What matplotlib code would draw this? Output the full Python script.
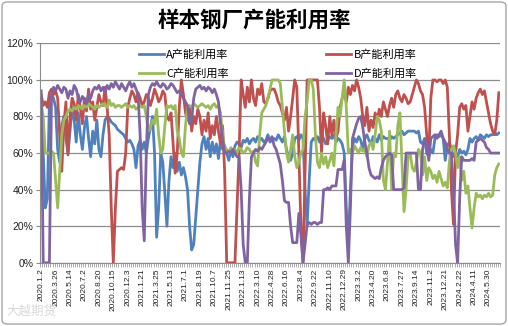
import numpy as np
import matplotlib.pyplot as plt
from matplotlib.patches import FancyBboxPatch

plt.rcParams['font.family'] = ['Noto Sans CJK SC', 'DejaVu Sans']

# weekly data, one label every 7 points
tick_labels = ["2020.1.2", "2020.3.26", "2020.5.14", "2020.7.2", "2020.8.20", "2020.10.15",
               "2020.12.3", "2021.1.21", "2021.3.25", "2021.5.13", "2021.7.1", "2021.8.19",
               "2021.10.7", "2021.11.25", "2022.1.13", "2022.3.10", "2022.4.28", "2022.6.16",
               "2022.8.4", "2022.9.22", "2022.11.10", "2022.12.29", "2023.3.2", "2023.4.20",
               "2023.6.8", "2023.7.27", "2023.9.14", "2023.11.2", "2023.12.21", "2024.2.22",
               "2024.4.11", "2024.5.30"]

series_a = [90, 60, 30, 35, 88, 92, 90, 85, 62, 55,
            75, 80, 68, 60, 72, 85, 78, 66, 82, 70,
            62, 74, 80, 68, 58, 72, 65, 78, 62, 58,
            70, 78, 80, 79, 77, 76, 75, 73, 72, 71,
            70, 68, 66, 67, 65, 62, 52, 64, 67, 62,
            66, 60, 68, 74, 80, 60, 14, 30, 60, 55,
            38, 20, 45, 58, 52, 60, 50, 55, 48, 52,
            47, 40, 20, 7, 10, 25, 40, 55, 65, 69,
            62, 68, 58, 66, 60, 65, 57, 67, 62, 64,
            60, 56, 62, 58, 64, 66, 65, 63, 67, 66,
            68, 65, 67, 68, 66, 69, 67, 68, 66, 67,
            70, 66, 67, 68, 67, 70, 68, 66, 69, 62,
            58, 56, 60, 68, 69, 67, 70, 68, 40, 20,
            45, 66, 68, 67, 69, 66, 70, 68, 65, 67,
            69, 68, 70, 66, 68, 67, 65, 60, 30, 10,
            40, 64, 68, 66, 69, 67, 62, 68, 70, 67,
            65, 69, 68, 66, 70, 67, 69, 68, 68, 67,
            69, 68, 69, 70, 71, 72, 70, 71, 72, 72,
            72, 72, 71, 72, 66, 65, 68, 60, 58, 62,
            60, 68, 70, 69, 70, 68, 56, 64, 66, 62,
            58, 60, 58, 62, 60, 61, 59, 62, 68, 66,
            68, 69, 67, 70, 69, 68, 70, 69, 70, 70,
            71, 70, 71]

series_b = [92, 86, 88, 85, 93, 95, 92, 94, 90, 70,
            50, 75, 88, 59, 80, 90, 87, 78, 92, 85,
            76, 90, 83, 95, 84, 88, 78, 85, 92, 88,
            86, 96, 85, 70, 30, 0, 30, 50, 51, 52,
            51, 60, 85, 90, 94, 92, 88, 93, 90, 86,
            88, 92, 90, 86, 90, 95, 92, 88, 90, 94,
            92, 80, 78, 82, 65, 49, 60, 85, 100, 92,
            82, 78, 85, 72, 80, 76, 84, 80, 70, 78,
            72, 82, 68, 75, 70, 80, 72, 65, 75, 50,
            0, 0, 0, 0, 0, 30, 60, 100, 92, 85,
            96, 88, 100, 90, 86, 95, 92, 98, 88, 87,
            90, 94, 95, 95, 92, 88, 86, 82, 78, 85,
            72, 80, 90, 100, 96, 60, 20, 0, 50, 100,
            100, 100, 100, 100, 100, 85, 60, 82, 75, 65,
            80, 70, 78, 68, 72, 85, 90, 94, 88, 96,
            92, 97, 94, 100, 96, 90, 80, 75, 85, 72,
            78, 74, 82, 78, 84, 80, 88, 84, 80, 86,
            90, 85, 92, 94, 90, 88, 92, 90, 87, 88,
            92, 96, 100, 98, 94, 92, 85, 70, 58, 90,
            100, 100, 99, 100, 100, 98, 100, 96, 70, 40,
            21, 60, 70, 85, 87, 84, 86, 72, 80, 88,
            84, 90, 93, 95, 92, 94, 88, 82, 76, 72,
            70, 78, 93]

series_c = [87, 80, 60, 60, 60, 61, 60, 45, 30, 50,
            70, 78, 80, 83, 84, 83, 85, 84, 86, 85,
            84, 86, 85, 87, 86, 85, 84, 86, 85, 86,
            87, 86, 85, 89, 86, 87, 85, 86, 86, 85,
            86, 87, 85, 86, 85, 86, 84, 85, 86, 85,
            86, 80, 72, 74, 78, 76, 84, 70, 60, 62,
            75, 86, 85, 86, 84, 86, 72, 68, 60, 58,
            75, 85, 86, 85, 87, 86, 85, 86, 87, 86,
            85, 86, 84, 86, 87, 85, 86, 82, 70, 63,
            62, 60, 63, 61, 62, 60, 63, 62, 60, 61,
            63, 62, 60, 61, 55, 53, 70, 82, 84, 86,
            90, 95, 100, 100, 100, 100, 98, 85, 72, 60,
            55, 62, 70, 58, 52, 55, 60, 62, 80, 88,
            100, 100, 95, 70, 55, 52, 60, 54, 58, 52,
            56, 60, 53, 70, 85, 80, 90, 100, 85, 60,
            62, 60, 64, 62, 60, 63, 61, 62, 58, 64,
            66, 62, 70, 80, 78, 72, 45, 40, 55, 72,
            40, 60, 58, 75, 82, 55, 28, 40, 58, 60,
            52, 50, 55, 62, 60, 48, 58, 45, 52, 50,
            46, 48, 44, 50, 46, 42, 44, 41, 55, 62,
            64, 60, 52, 58, 45, 50, 38, 42, 30, 19,
            30, 38, 36, 37, 35, 37, 36, 38, 36, 37,
            48, 52, 54]

series_d = [94, 0, 0, 0, 0, 90, 96, 94, 97, 95,
            93, 96, 95, 90, 94, 92, 97, 95, 90, 88,
            91, 89, 87, 92, 90, 94, 96, 95, 97, 94,
            96, 93, 97, 95, 98, 96, 99, 97, 95, 98,
            96, 94, 97, 99, 96, 98, 95, 92, 70, 30,
            12, 60, 92, 96, 98, 97, 99, 97, 96, 98,
            97, 95, 96, 98, 97, 95, 93, 94, 92, 90,
            88, 86, 76, 78, 90, 95, 96, 97, 95, 96,
            94, 96, 95, 93, 95, 92, 88, 76, 68, 60,
            60, 61, 60, 62, 60, 58, 58, 40, 10, 0,
            0, 35, 58, 60, 62, 61, 63, 62, 64, 66,
            68, 67, 69, 64, 62, 58, 54, 45, 34, 33,
            33, 20, 11, 11, 11, 27, 15, 0, 10, 21,
            22, 21, 22, 22, 21, 22, 22, 40, 40, 41,
            40, 42, 42, 42, 51, 51, 51, 56, 20, 0,
            30, 68, 72, 76, 79, 80, 74, 66, 60, 52,
            48, 47, 46, 47, 46, 52, 56, 58, 59, 60,
            59, 40, 40, 40, 40, 40, 41, 60, 60, 60,
            60, 60, 60, 40, 40, 62, 67, 66, 56, 68,
            69, 70, 68, 70, 72, 68, 66, 62, 60, 60,
            40, 10, 0, 35, 58, 56, 56, 56, 56, 57,
            56, 66, 67, 68, 67, 66, 63, 62, 60, 60,
            60, 60, 60]

names = ["A产能利用率", "B产能利用率", "C产能利用率", "D产能利用率"]
colors = ["#4F81BD", "#C0504D", "#9BBB59", "#8064A2"]

n = len(series_a)
x = np.arange(n)

fig = plt.figure(figsize=(5.08, 3.26), dpi=100)
ax = fig.add_axes([0.079, 0.194, 0.905, 0.673])

lines = []
for ys, name, c in zip([series_a, series_b, series_c, series_d], names, colors):
    ln, = ax.plot(x, ys, color=c, lw=2.0, label=name, solid_joinstyle='round')
    lines.append(ln)

ax.set_xlim(-0.5, n - 0.5)
ax.set_ylim(0, 120)

# y axis
ax.set_yticks(range(0, 121, 20))
ax.set_yticklabels([f"{v}%" for v in range(0, 121, 20)], family='Liberation Sans',
                   fontsize=7.5, color='#222222')
ax.yaxis.grid(True, color='#8c8c8c', lw=0.9)
ax.set_axisbelow(True)
ax.tick_params(axis='y', length=3, color='#8c8c8c', pad=2)

# x axis: labels every 7 weeks, small tick at every category
ax.set_xticks(np.arange(0, 7 * len(tick_labels), 7))
ax.set_xticklabels(tick_labels, rotation=90, family='Liberation Sans', fontsize=6,
                   color='#222222')
ax.set_xticks(np.arange(-0.5, n, 1), minor=True)
ax.tick_params(axis='x', which='major', length=0, pad=4)
ax.tick_params(axis='x', which='minor', length=3, color='#a0a0a0', width=0.6)

for side in ['top', 'right']:
    ax.spines[side].set_visible(False)
ax.spines['left'].set_color('#8c8c8c')
ax.spines['bottom'].set_color('#8c8c8c')

# title
fig.text(0.5, 1 - 20 / 326, "样本钢厂产能利用率", ha='center', va='center',
         fontsize=15.5, fontweight='bold')

# legend 2x2: A, C in first column, B, D in second
ax.legend([lines[0], lines[2], lines[1], lines[3]],
          [names[0], names[2], names[1], names[3]],
          ncol=2, frameon=False, fontsize=8, handlelength=2.3, handletextpad=0.2,
          columnspacing=8.7, labelspacing=0.75, borderpad=0,
          loc='upper left', bbox_to_anchor=(133 / 508, 1 - 44 / 326),
          bbox_transform=fig.transFigure)

# watermark
fig.text(0.012, 0.035, "大越期货", color='#d8d8d8', fontsize=9)

# chart border
fig.patches.append(FancyBboxPatch((0.004, 0.006), 0.992, 0.988,
                                  boxstyle='round,pad=0,rounding_size=0.012',
                                  transform=fig.transFigure, fill=False,
                                  ec='#a6a6a6', lw=1))

fig.savefig("out.png", dpi=100)
